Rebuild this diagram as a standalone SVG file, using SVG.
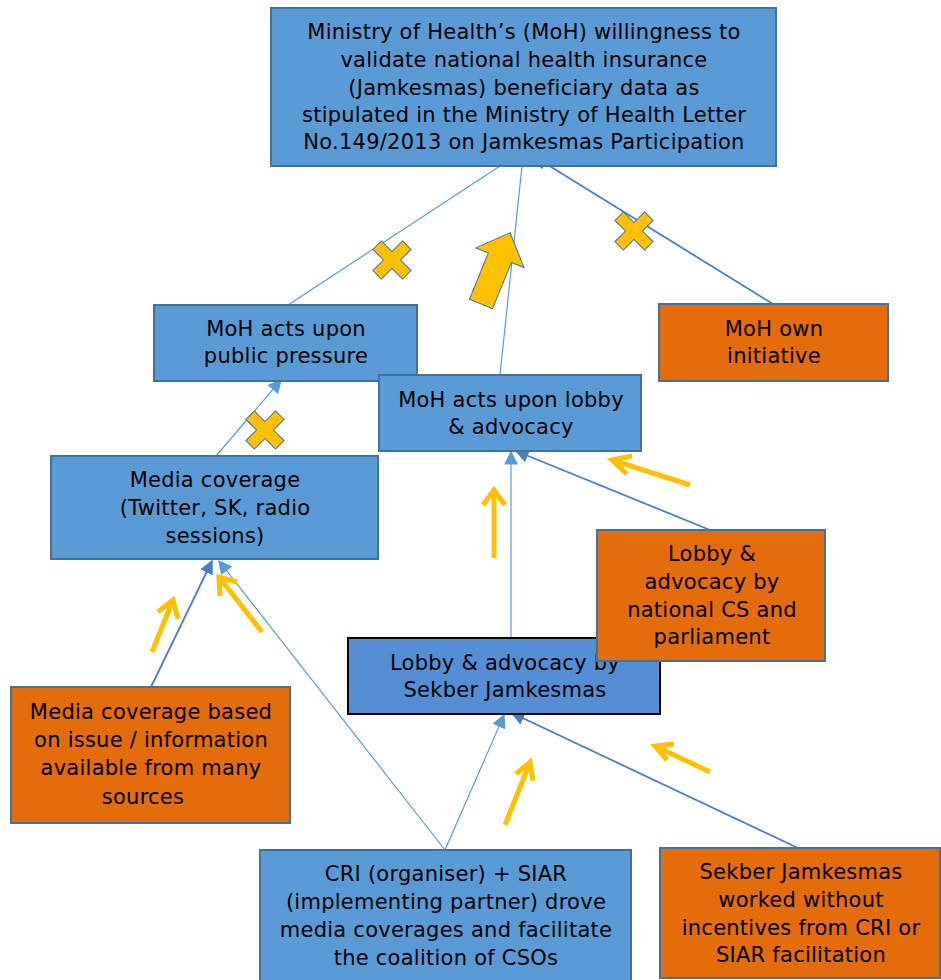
<svg xmlns="http://www.w3.org/2000/svg" width="941" height="980" viewBox="0 0 941 980">
<defs>
<style>
.blue{fill:#5B9BD5;stroke:#41719C;stroke-width:2}
.orange{fill:#E46C0A;stroke:#41719C;stroke-width:2}
.sek{fill:#558ED5;stroke:#000;stroke-width:2}
text{font-family:"DejaVu Sans",Verdana,sans-serif;font-size:21px;letter-spacing:0.25px;fill:#000;text-anchor:middle}
.cl{stroke:#5B9BD5;stroke-width:1.2;fill:none}
.cd{stroke:#4A7EC0;stroke-width:1.8;fill:none}
.ga{stroke:#FFC000;stroke-width:5;fill:none;stroke-linecap:butt;stroke-linejoin:miter}
.x{fill:#FFC000;stroke:#41719C;stroke-width:1}
</style>
<marker id="ml" viewBox="0 0 10 10" refX="9" refY="5" markerWidth="14" markerHeight="14" markerUnits="userSpaceOnUse" orient="auto"><path d="M0,0L10,5L0,10z" fill="#5B9BD5"/></marker>
<marker id="md" viewBox="0 0 10 10" refX="9" refY="5" markerWidth="14" markerHeight="14" markerUnits="userSpaceOnUse" orient="auto"><path d="M0,0L10,5L0,10z" fill="#4A7EC0"/></marker>
<path id="xs" transform="rotate(45)" d="M-6,-21 L6,-21 L6,-6 L21,-6 L21,6 L6,6 L6,21 L-6,21 L-6,6 L-21,6 L-21,-6 L-6,-6 Z"/>
</defs>
<rect width="941" height="980" fill="#fff"/>

<g id="connectors">
<line class="cl" x1="288" y1="305" x2="500" y2="166"/>
<line class="cl" x1="500" y1="375" x2="522" y2="166"/>
<line class="cd" x1="773" y1="304" x2="535" y2="157" marker-end="url(#md)"/>
<line class="cl" x1="216" y1="456" x2="281" y2="380" marker-end="url(#ml)"/>
<line class="cl" x1="511" y1="638" x2="511" y2="452" marker-end="url(#ml)"/>
<line class="cd" x1="710" y1="530" x2="516" y2="451" marker-end="url(#md)"/>
<line class="cd" x1="151" y1="687" x2="212" y2="561" marker-end="url(#md)"/>
<line class="cl" x1="445" y1="850" x2="219" y2="561" marker-end="url(#ml)"/>
<line class="cl" x1="445" y1="850" x2="504" y2="715" marker-end="url(#ml)"/>
<line class="cd" x1="798" y1="848" x2="512" y2="713" marker-end="url(#md)"/>
</g>

<g id="n-top">
<rect class="blue" x="271" y="8" width="505" height="158"/>
<text x="524" y="39">Ministry of Health’s (MoH) willingness to</text>
<text x="524" y="67">validate national health insurance</text>
<text x="524" y="95">(Jamkesmas) beneficiary data as</text>
<text x="524" y="122">stipulated in the Ministry of Health Letter</text>
<text x="524" y="149">No.149/2013 on Jamkesmas Participation</text>
</g>

<g id="n-public">
<rect class="blue" x="154" y="305" width="263" height="76"/>
<text x="286" y="336">MoH acts upon</text>
<text x="286" y="363">public pressure</text>
</g>

<g id="n-own">
<rect class="orange" x="659" y="304" width="229" height="77"/>
<text x="774" y="336">MoH own</text>
<text x="774" y="363">initiative</text>
</g>

<g id="n-lobby">
<rect class="blue" x="379" y="375" width="262" height="76"/>
<text x="511" y="407">MoH acts upon lobby</text>
<text x="511" y="434">&amp; advocacy</text>
</g>

<g id="n-media">
<rect class="blue" x="51" y="456" width="327" height="103"/>
<text x="215" y="487">Media coverage</text>
<text x="215" y="515">(Twitter, SK, radio</text>
<text x="215" y="543">sessions)</text>
</g>

<g id="n-sekber">
<rect class="sek" x="348" y="638" width="312" height="76"/>
<text x="505" y="670">Lobby &amp; advocacy by</text>
<text x="505" y="697">Sekber Jamkesmas</text>
</g>

<g id="n-national">
<rect class="orange" x="597" y="530" width="228" height="131"/>
<text x="712" y="561">Lobby &amp;</text>
<text x="712" y="589">advocacy by</text>
<text x="712" y="617">national CS and</text>
<text x="712" y="644">parliament</text>
</g>

<g id="n-mediabased">
<rect class="orange" x="11" y="687" width="279" height="136"/>
<text x="151" y="719">Media coverage based</text>
<text x="151" y="747">on issue / information</text>
<text x="151" y="775">available from many</text>
<text x="143" y="804">sources</text>
</g>

<g id="n-cri">
<rect class="blue" x="260" y="850" width="371" height="140"/>
<text x="446" y="881">CRI (organiser) + SIAR</text>
<text x="446" y="909">(implementing partner) drove</text>
<text x="446" y="937">media coverages and facilitate</text>
<text x="446" y="965">the coalition of CSOs</text>
</g>

<g id="n-worked">
<rect class="orange" x="660" y="848" width="280" height="130"/>
<text x="801" y="879">Sekber Jamkesmas</text>
<text x="801" y="907">worked without</text>
<text x="801" y="935">incentives from CRI or</text>
<text x="801" y="962">SIAR facilitation</text>
</g>

<g id="marks">
<use href="#xs" class="x" x="392" y="260"/>
<use href="#xs" class="x" x="634" y="231"/>
<use href="#xs" class="x" x="265" y="430"/>
<path d="M-12.5,0 L-12.5,-50 L-26,-50 L0,-77 L26,-50 L12.5,-50 L12.5,0 Z" fill="#FFC000" stroke="#41719C" stroke-width="1" transform="rotate(22.2 481 304) translate(481 304)"/>
</g>

<g id="gold-arrows">
<path class="ga" d="M152,652 L173,600 M158,612 L173,600 L178,619"/>
<path class="ga" d="M262,632 L219,577 M220,596 L219,577 L237,582"/>
<path class="ga" d="M494,558 L494,490 M483,505 L494,490 L505,505"/>
<path class="ga" d="M690,485 L612,460 M627,474 L612,460 L632,456"/>
<path class="ga" d="M505,825 L530,762 M516,774 L530,762 L533,781"/>
<path class="ga" d="M710,772 L655,746 M667,760 L655,746 L674,744"/>
</g>
</svg>
